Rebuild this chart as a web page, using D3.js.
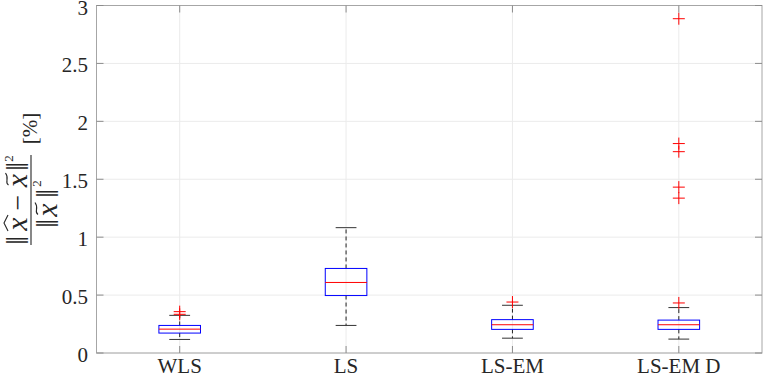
<!DOCTYPE html>
<html>
<head>
<meta charset="utf-8">
<script src="https://cdn.jsdelivr.net/npm/d3@7"></script>
<style>
  body { margin: 0; background: #fff; }
  svg { display: block; }
  .tick-label { font-family: "Liberation Serif", serif; font-size: 21px; fill: #262626; }
  .math { font-family: "Liberation Serif", "DejaVu Serif", serif; fill: #262626; }
</style>
</head>
<body>
<svg id="chart" width="764" height="384"></svg>
<script>
// methods on the x axis
const methods = ["WLS", "LS", "LS-EM", "LS-EM D"];

// box stats: [lower whisker, q1, median, q3, upper whisker]
const boxStats = [
  [0.117, 0.172, 0.206, 0.238, 0.325],
  [0.238, 0.496, 0.609, 0.730, 1.082],
  [0.128, 0.204, 0.244, 0.288, 0.412],
  [0.120, 0.204, 0.244, 0.284, 0.392]
];

// outliers per method
const outliers = [
  [0.334, 0.357],
  [],
  [0.440],
  [0.432, 1.337, 1.432, 1.738, 1.808, 2.886]
];

const yTicks = [0, 0.5, 1, 1.5, 2, 2.5, 3];

const MARGIN = { LEFT: 96.5, RIGHT: 762, TOP: 5.5, BOTTOM: 353 };

const svg = d3.select("#chart");

const x = d3.scaleLinear().domain([0.5, 4.5]).range([MARGIN.LEFT, MARGIN.RIGHT]);
const y = d3.scaleLinear().domain([0, 3]).range([MARGIN.BOTTOM, MARGIN.TOP]);
const step = x(2) - x(1);
const boxW = step * 0.25;
const capW = boxW / 2;

// grid
const grid = svg.append("g");
grid.selectAll(".hgrid")
  .data(yTicks)
  .enter()
  .append("line")
  .attr("x1", MARGIN.LEFT).attr("x2", MARGIN.RIGHT)
  .attr("y1", d => y(d)).attr("y2", d => y(d))
  .attr("stroke", "#ebebeb").attr("stroke-width", 1);
grid.selectAll(".vgrid")
  .data(methods)
  .enter()
  .append("line")
  .attr("x1", (d, i) => x(i + 1)).attr("x2", (d, i) => x(i + 1))
  .attr("y1", MARGIN.TOP).attr("y2", MARGIN.BOTTOM)
  .attr("stroke", "#ebebeb").attr("stroke-width", 1);

// boxes
const boxes = svg.append("g")
  .selectAll("g")
  .data(boxStats)
  .enter()
  .append("g")
  .attr("transform", (d, i) => `translate(${x(i + 1)},0)`);

// dashed whiskers
boxes.append("line")
  .attr("y1", d => y(d[3])).attr("y2", d => y(d[4]))
  .attr("stroke", "#222").attr("stroke-dasharray", "4,3");
boxes.append("line")
  .attr("y1", d => y(d[1])).attr("y2", d => y(d[0]))
  .attr("stroke", "#222").attr("stroke-dasharray", "4,3");

// caps
[0, 4].forEach(k => {
  boxes.append("line")
    .attr("x1", -capW / 2).attr("x2", capW / 2)
    .attr("y1", d => y(d[k])).attr("y2", d => y(d[k]))
    .attr("stroke", "#333");
});

boxes.append("rect")
  .attr("x", -boxW / 2)
  .attr("width", boxW)
  .attr("y", d => y(d[3]))
  .attr("height", d => y(d[1]) - y(d[3]))
  .attr("fill", "none")
  .attr("stroke", "#0000ff");

boxes.append("line")
  .attr("x1", -boxW / 2).attr("x2", boxW / 2)
  .attr("y1", d => y(d[2])).attr("y2", d => y(d[2]))
  .attr("stroke", "#ff0000");

// outliers as red plus signs
const flat = [];
outliers.forEach((arr, i) => arr.forEach(v => flat.push({ m: i + 1, v })));
const plus = svg.append("g")
  .selectAll("g")
  .data(flat)
  .enter()
  .append("g")
  .attr("transform", d => `translate(${x(d.m)},${y(d.v)})`);
plus.append("line").attr("x1", -6).attr("x2", 6).attr("stroke", "#ff0000");
plus.append("line").attr("y1", -6).attr("y2", 6).attr("stroke", "#ff0000");

// axes box
svg.append("rect")
  .attr("x", MARGIN.LEFT).attr("y", MARGIN.TOP)
  .attr("width", MARGIN.RIGHT - MARGIN.LEFT)
  .attr("height", MARGIN.BOTTOM - MARGIN.TOP)
  .attr("fill", "none").attr("stroke", "#a6a6a6");

// ticks
const tk = svg.append("g").attr("stroke", "#8c8c8c");
yTicks.forEach(t => {
  tk.append("line").attr("x1", MARGIN.LEFT).attr("x2", MARGIN.LEFT + 7)
    .attr("y1", y(t)).attr("y2", y(t));
  tk.append("line").attr("x1", MARGIN.RIGHT).attr("x2", MARGIN.RIGHT - 7)
    .attr("y1", y(t)).attr("y2", y(t));
});
methods.forEach((m, i) => {
  tk.append("line").attr("x1", x(i + 1)).attr("x2", x(i + 1))
    .attr("y1", MARGIN.BOTTOM).attr("y2", MARGIN.BOTTOM - 7);
  tk.append("line").attr("x1", x(i + 1)).attr("x2", x(i + 1))
    .attr("y1", MARGIN.TOP).attr("y2", MARGIN.TOP + 7);
});

// tick labels
svg.append("g")
  .selectAll("text")
  .data(yTicks)
  .enter()
  .append("text")
  .attr("class", "tick-label")
  .attr("x", 88)
  .attr("y", d => y(d) + 9)
  .attr("text-anchor", "end")
  .text(d => d);

svg.append("g")
  .selectAll("text")
  .data(methods)
  .enter()
  .append("text")
  .attr("class", "tick-label")
  .attr("x", (d, i) => x(i + 1))
  .attr("y", 373)
  .attr("text-anchor", "middle")
  .text(d => d);

// y label: fraction, rotated (local x runs upward on screen, local y to the right)
const yl = svg.append("g").attr("transform", "translate(31,200) rotate(-90)");
yl.append("line")
  .attr("x1", -45).attr("x2", 45).attr("y1", 0).attr("y2", 0)
  .attr("stroke", "#262626").attr("stroke-width", 1.1);

function piece(txt, u, v, size, italic) {
  return yl.append("text").attr("class", "math")
    .attr("x", u).attr("y", v)
    .attr("font-size", size)
    .attr("font-style", italic ? "italic" : "normal")
    .attr("text-anchor", "middle")
    .text(txt);
}
function hat(u, v) {
  yl.append("path")
    .attr("d", `M${u - 8},${v + 2}L${u},${v - 2}L${u + 8},${v + 2}`)
    .attr("fill", "none").attr("stroke", "#262626").attr("stroke-width", 1.1);
}
function tilde(u, v) {
  yl.append("path")
    .attr("d", `M${u - 6},${v + 1.5}C${u - 3},${v - 3} ${u},${v + 3} ${u + 6},${v - 1.5}`)
    .attr("fill", "none").attr("stroke", "#262626").attr("stroke-width", 1.1);
}

// numerator ||x^ - x~||^2
piece("\u2016", -40.5, -3, 31, false);
piece("x", -24, -4, 30, true);
hat(-23, -25);
piece("\u2212", -2.5, -4, 28, false);
piece("x", 19.5, -4, 30, true);
tilde(21, -24);
piece("\u2016", 33.5, -3, 31, false);
piece("2", 41.5, -18, 13, false);

// denominator ||x~||^2
piece("\u2016", -23.5, 27, 31, false);
piece("x", -10, 26, 30, true);
tilde(-8.5, 5.5);
piece("\u2016", 6.5, 27, 31, false);
piece("2", 16.5, 10, 13, false);

// unit
piece("[%]", 71.5, 6, 21, false);
</script>
</body>
</html>
